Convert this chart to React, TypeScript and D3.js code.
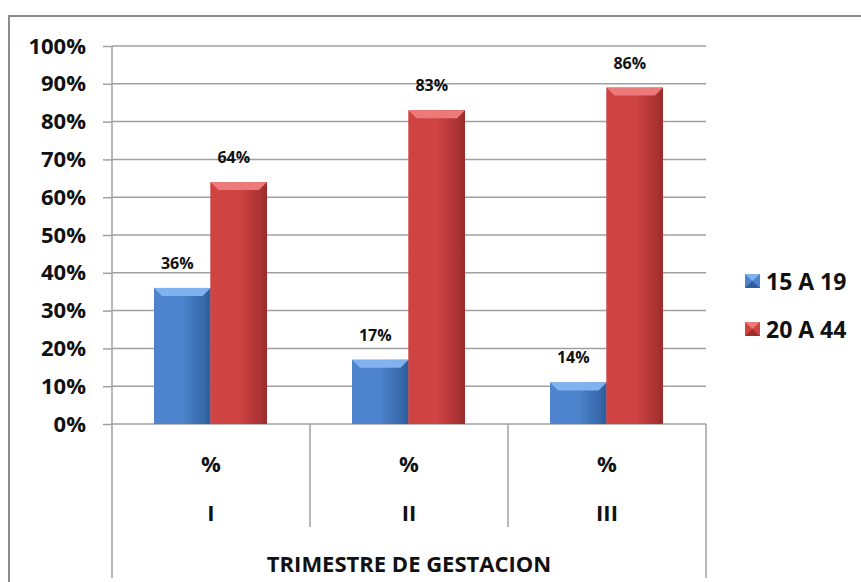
import React, { useEffect, useRef } from 'react';
import * as d3 from 'd3';

// trimestres and series
const categories = ['I', 'II', 'III'];
const subLabels = ['%', '%', '%'];
const seriesNames = ['15 A 19', '20 A 44'];
// bar heights as drawn in the picture (fractions)
const barsYoung = [0.36, 0.17, 0.11];
const barsAdult = [0.64, 0.83, 0.89];
// data labels printed above the bars
const labelsYoung = ['36%', '17%', '14%'];
const labelsAdult = ['64%', '83%', '86%'];
const yTicks = [0, 0.1, 0.2, 0.3, 0.4, 0.5, 0.6, 0.7, 0.8, 0.9, 1];
const axisTitle = 'TRIMESTRE DE GESTACION';

const colors = [
  { light: '#7fb2ee', mid: '#4d84cd', dark: '#2f5f9e' },
  { light: '#ec7a78', mid: '#d04343', dark: '#9e2e2e' },
];

function App() {
  const ref = useRef<SVGSVGElement>(null);

  useEffect(() => {
    const svg = d3.select(ref.current);
    svg.selectAll('*').remove();

    const font = "'Open Sans', sans-serif";
    const left = 112, right = 706, top = 46, bottom = 424;

    const x = d3.scaleBand<string>().domain(categories).range([left, right]).padding(0);
    const xs = d3.scaleBand<number>().domain([0, 1]).range([42, 155]).padding(0);
    const y = d3.scaleLinear().domain([0, 1]).range([bottom, top]);

    // gradients for bars
    const defs = svg.append('defs');
    colors.forEach((c, i) => {
      const g = defs.append('linearGradient').attr('id', `face${i}`)
        .attr('x1', 0).attr('x2', 1).attr('y1', 0).attr('y2', 0);
      g.append('stop').attr('offset', '0%').attr('stop-color', c.mid);
      g.append('stop').attr('offset', '50%').attr('stop-color', c.mid);
      g.append('stop').attr('offset', '100%').attr('stop-color', c.dark);
    });

    // outer border (top + left)
    svg.append('path')
      .attr('d', `M9,582 L9,16 L861,16`)
      .attr('fill', 'none').attr('stroke', '#8c8c8c').attr('stroke-width', 2);

    // gridlines
    svg.append('g').selectAll('line').data(yTicks.slice(1)).join('line')
      .attr('x1', left).attr('x2', right)
      .attr('y1', d => y(d)).attr('y2', d => y(d))
      .attr('stroke', '#a0a0a0').attr('stroke-width', 1.5);

    // y axis
    const yAxis = svg.append('g').attr('transform', `translate(${left},0)`)
      .call(d3.axisLeft(y).tickValues(yTicks).tickFormat(d3.format('.0%')).tickSize(9).tickPadding(17));
    yAxis.select('.domain').remove();
    yAxis.selectAll('line').attr('stroke', '#a0a0a0').attr('stroke-width', 1.5);
    yAxis.selectAll('text').attr('font-family', font).attr('font-weight', 700)
      .attr('font-size', 22).attr('fill', '#111');
    svg.append('line').attr('x1', left).attr('x2', left).attr('y1', top).attr('y2', 578)
      .attr('stroke', '#a0a0a0').attr('stroke-width', 1.5);

    // category box lines under axis
    svg.append('line').attr('x1', left).attr('x2', right).attr('y1', bottom).attr('y2', bottom)
      .attr('stroke', '#a0a0a0').attr('stroke-width', 1.5);
    svg.append('g').selectAll('line').data(categories.slice(1)).join('line')
      .attr('x1', d => x(d) as number).attr('x2', d => x(d) as number)
      .attr('y1', bottom).attr('y2', 527)
      .attr('stroke', '#a0a0a0').attr('stroke-width', 1.5);
    svg.append('line').attr('x1', right).attr('x2', right).attr('y1', bottom).attr('y2', 578)
      .attr('stroke', '#a0a0a0').attr('stroke-width', 1.5);

    // bars
    const series = [barsYoung, barsAdult];
    const labels = [labelsYoung, labelsAdult];
    const bw = xs.bandwidth();
    series.forEach((vals, si) => {
      const c = colors[si];
      const g = svg.append('g');
      vals.forEach((v, ci) => {
        const x0 = (x(categories[ci]) as number) + (xs(si) as number);
        const y0 = y(v);
        const h = bottom - y0;
        const bev = Math.min(8, h / 2);
        g.append('rect').attr('x', x0).attr('y', y0).attr('width', bw).attr('height', h)
          .attr('fill', `url(#face${si})`);
        // top bevel
        g.append('path')
          .attr('d', `M${x0},${y0} L${x0 + bw},${y0} L${x0 + bw - bev},${y0 + bev} L${x0 + bev},${y0 + bev} Z`)
          .attr('fill', c.light);
        // side bevels
        g.append('path')
          .attr('d', `M${x0},${y0} L${x0 + bev * 0.5},${y0 + bev} L${x0 + bev * 0.5},${bottom} L${x0},${bottom} Z`)
          .attr('fill', c.mid).attr('opacity', 0.8);
        g.append('path')
          .attr('d', `M${x0 + bw},${y0} L${x0 + bw - bev * 0.5},${y0 + bev} L${x0 + bw - bev * 0.5},${bottom} L${x0 + bw},${bottom} Z`)
          .attr('fill', c.dark).attr('opacity', 0.9);
        g.append('text')
          .attr('x', x0 + bw / 2 - 5).attr('y', y0 - 25)
          .attr('text-anchor', 'middle').attr('dominant-baseline', 'central')
          .attr('font-family', font).attr('font-weight', 700).attr('font-size', 16)
          .attr('fill', '#111').text(labels[si][ci]);
      });
    });

    // category labels
    const catG = svg.append('g').attr('font-family', font).attr('font-weight', 700)
      .attr('fill', '#111').attr('text-anchor', 'middle').attr('dominant-baseline', 'central');
    categories.forEach((c, i) => {
      const cx = (x(c) as number) + x.bandwidth() / 2;
      catG.append('text').attr('x', cx).attr('y', 463).attr('font-size', 22).text(subLabels[i]);
      catG.append('text').attr('x', cx).attr('y', 512).attr('font-size', 22).text(c);
    });
    catG.append('text').attr('x', (left + right) / 2).attr('y', 563).attr('font-size', 22).text(axisTitle);

    // legend
    const lg = svg.append('g');
    seriesNames.forEach((name, i) => {
      const ly = 281 + i * 48;
      const c = colors[i];
      lg.append('rect').attr('x', 745).attr('y', ly - 7).attr('width', 15).attr('height', 14).attr('fill', c.mid);
      lg.append('path')
        .attr('d', `M745,${ly - 7} L760,${ly - 7} L752.5,${ly} Z`).attr('fill', c.light);
      lg.append('path')
        .attr('d', `M745,${ly + 7} L760,${ly + 7} L752.5,${ly} Z`).attr('fill', c.dark);
      lg.append('text').attr('x', 766).attr('y', ly).attr('dominant-baseline', 'central')
        .attr('font-family', font).attr('font-weight', 700).attr('font-size', 23)
        .attr('fill', '#111').text(name);
    });
  }, []);

  return (
    <svg ref={ref} width={861} height={582}
      style={{ position: 'absolute', left: 0, top: 0, background: '#fff', display: 'block' }} />
  );
}

export default App;
